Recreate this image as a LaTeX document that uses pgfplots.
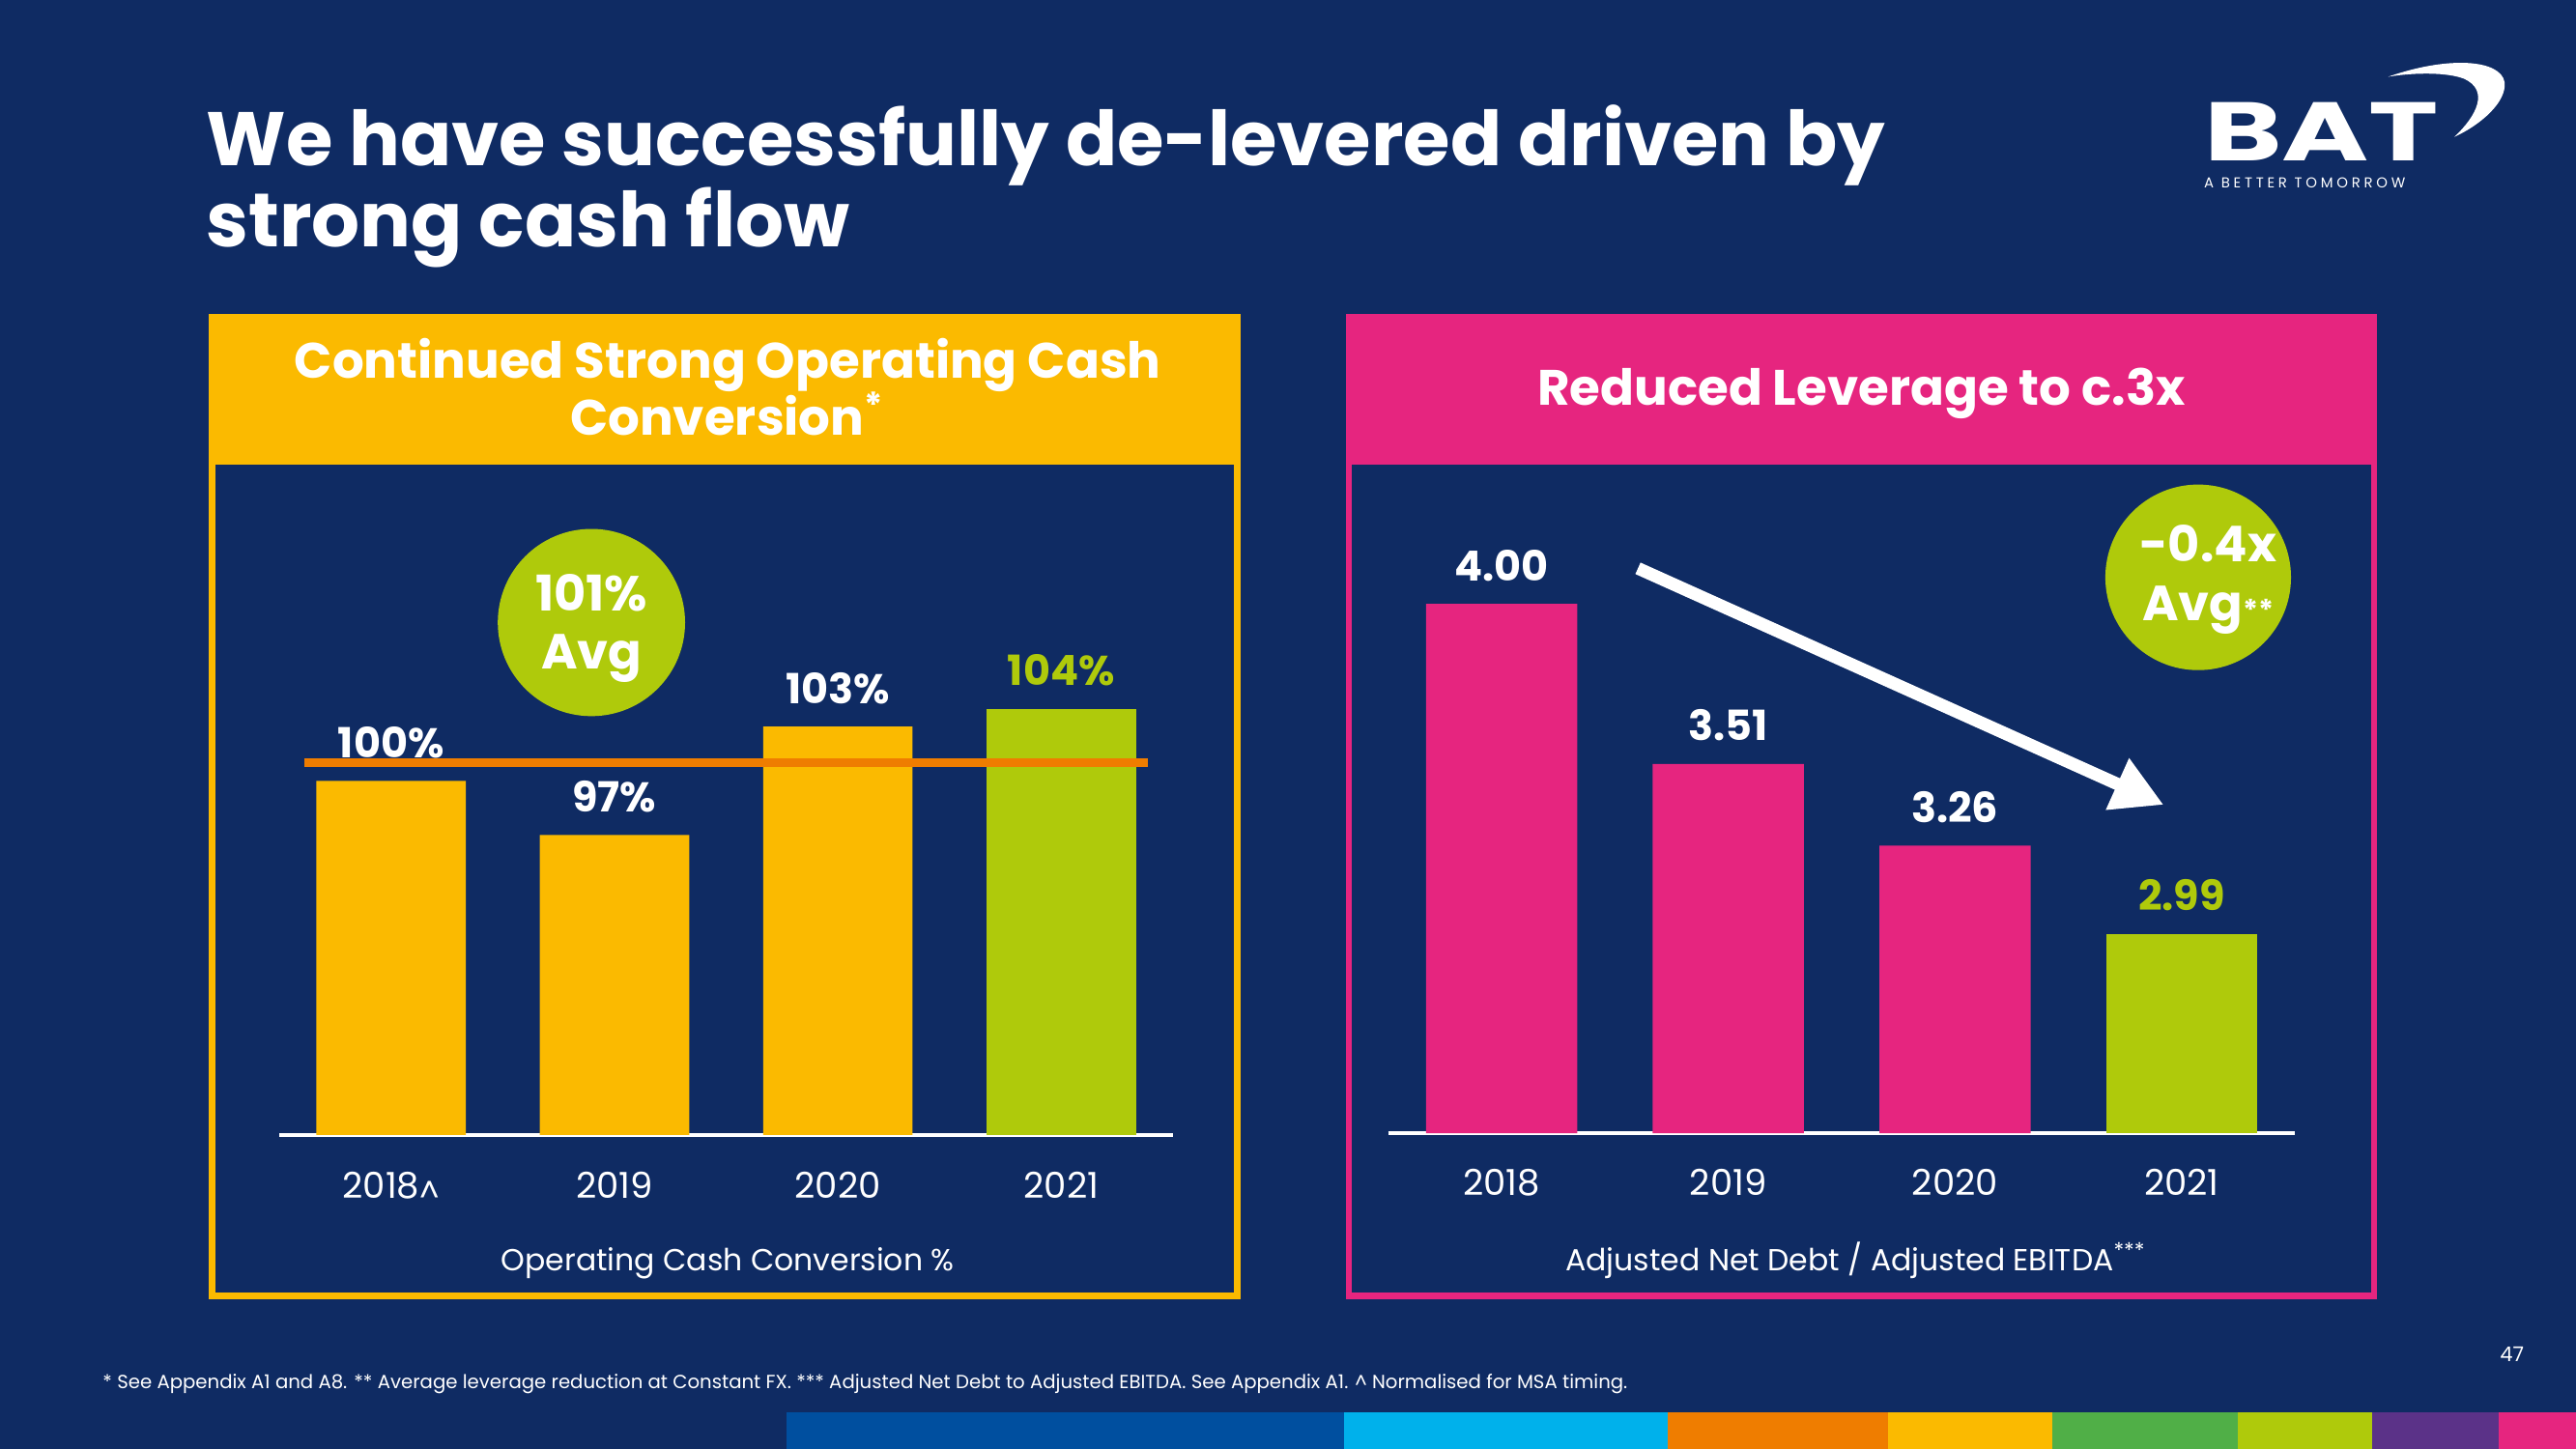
\documentclass[border=0pt]{standalone}
\usepackage{fontspec}
\setmainfont{Poppins}
\usepackage{graphicx}
\usepackage{pgfplots}
\pgfplotsset{compat=1.18}
\usetikzlibrary{arrows.meta}
\definecolor{navy}{HTML}{0F2B63}
\definecolor{byellow}{HTML}{FBBA00}
\definecolor{blime}{HTML}{AFCA0B}
\definecolor{bpink}{HTML}{E6257F}
\definecolor{borange}{HTML}{EF7D00}
\definecolor{bblue}{HTML}{004F9F}
\definecolor{bcyan}{HTML}{00B1EB}
\definecolor{bgreen}{HTML}{50AF47}
\definecolor{bpurple}{HTML}{5B3288}
\newcommand{\fs}[1]{\fontsize{#1}{#1}\selectfont}
\begin{document}
\begin{tikzpicture}
\begin{scope}[x=0.34pt,y=-0.34pt]
\fill[navy] (0,0) rectangle (1568,882);
% title
\node[anchor=base west, inner sep=0, white, font=\bfseries\fs{15.7}] at (125,101) {We have successfully de-levered driven by};
\node[anchor=base west, inner sep=0, white, font=\bfseries\fs{15.7}] at (125,150) {strong cash flow};
% logo
\node[anchor=south west, inner sep=0, white] at (1341,98.5) {\resizebox{143\dimexpr0.34pt}{35.5\dimexpr0.34pt}{\bfseries BAT}};
\node[anchor=base west, inner sep=0, white] at (1341,114.5) {\resizebox{122.5\dimexpr0.34pt}{!}{\addfontfeatures{LetterSpace=25}A BETTER TOMORROW}};
\fill[white] (1453.7,46.7) .. controls (1490,34) and (1522,36) .. (1524.5,50) .. controls (1526,62) and (1510,76) .. (1494,83.3) .. controls (1508,70) and (1515,55) .. (1500,48) .. controls (1490,44) and (1470,44) .. (1453.7,46.7) -- cycle;
% left panel
\fill[byellow] (127,191) rectangle (755,791);
\fill[navy] (131,283) rectangle (751,787);
\node[anchor=base, inner sep=0, white, font=\bfseries\fs{10.3}] at (443,230) {Continued Strong Operating Cash};
\node[anchor=base, inner sep=0, white, font=\bfseries\fs{10.3}] at (443,265) {Conversion\textsuperscript{*}};
% right panel
\fill[bpink] (819,191) rectangle (1447,791);
\fill[navy] (823,283) rectangle (1443,787);
\node[anchor=base, inner sep=0, white, font=\bfseries\fs{10.3}] at (1133,247) {Reduced Leverage to c.3x};
% x labels
\node[anchor=base, inner sep=0, white, font=\fs{6.3}] at (443,773.5) {Operating Cash Conversion \%};
\node[anchor=base, inner sep=0, white, font=\fs{6.3}] at (1130,773.5) {Adjusted Net Debt / Adjusted EBITDA\textsuperscript{***}};
% footnote
\node[anchor=base west, inner sep=0, white] at (62,845.5) {\resizebox{928\dimexpr0.34pt}{!}{\fs{4}* See Appendix A1 and A8. ** Average leverage reduction at Constant FX. *** Adjusted Net Debt to Adjusted EBITDA. See Appendix A1. \textasciicircum\ Normalised for MSA timing.}};
\node[anchor=base, inner sep=0, white, font=\fs{4.2}] at (1529,829) {47};
% bottom colour bar
\fill[bblue] (479,860) rectangle (818,882);
\fill[bcyan] (818,860) rectangle (1015,882);
\fill[borange] (1015,860) rectangle (1149,882);
\fill[byellow] (1149,860) rectangle (1249,882);
\fill[bgreen] (1249,860) rectangle (1362,882);
\fill[blime] (1362,860) rectangle (1444,882);
\fill[bpurple] (1444,860) rectangle (1521,882);
\fill[bpink] (1521,860) rectangle (1568,882);
\end{scope}

% left chart
\begin{axis}[
  at={({170*0.34pt},{-691*0.34pt})}, anchor=south west,
  scale only axis, width={544*0.34pt}, height={29.6*11*0.34pt},
  xmin=-0.5, xmax=3.5, ymin=80.4, ymax=110,
  /pgf/number format/assume math mode=true,
  axis y line=none, axis x line=bottom,
  x axis line style={-, white, line width=0.8pt},
  xtick={0,1,2,3},
  xticklabels={{2018\raisebox{-1.1pt}{\fs{6.5}\textasciicircum}},2019,2020,2021},
  major tick length=0pt,
  xticklabel style={white, font=\fs{7.4}, anchor=base, yshift={-38.4*0.34pt}},
  nodes near coords style={font=\bfseries\fs{8.6}, anchor=base, inner sep=0pt, yshift=4.8pt},
]
\addplot[ybar, bar width={91*0.34pt}, bar shift=0pt, fill=byellow, draw=none,
  nodes near coords={\pgfmathprintnumber{\pgfplotspointmeta}\%},
  every node near coord/.append style={white}]
  coordinates {(0,100) (1,97) (2,103)};
\addplot[ybar, bar width={91*0.34pt}, bar shift=0pt, fill=blime, draw=none,
  nodes near coords={\pgfmathprintnumber{\pgfplotspointmeta}\%},
  every node near coord/.append style={blime}]
  coordinates {(3,104)};
\addplot[borange, line width=1.7pt] coordinates {(-0.386,101) (3.386,101)};
\end{axis}

% right chart
\begin{axis}[
  at={({845*0.34pt},{-690*0.34pt})}, anchor=south west,
  scale only axis, width={552*0.34pt}, height={2.12*199*0.34pt},
  xmin=-0.5, xmax=3.5, ymin=2.38, ymax=4.5,
  /pgf/number format/assume math mode=true,
  axis y line=none, axis x line=bottom,
  x axis line style={-, white, line width=0.8pt},
  xtick={0,1,2,3},
  xticklabels={2018,2019,2020,2021},
  major tick length=0pt,
  xticklabel style={white, font=\fs{7.4}, anchor=base, yshift={-37.6*0.34pt}},
  nodes near coords style={font=\bfseries\fs{8.6}, anchor=base, inner sep=0pt, yshift=4.8pt},
]
\addplot[ybar, bar width={92*0.34pt}, bar shift=0pt, fill=bpink, draw=none,
  nodes near coords={\pgfmathprintnumber[fixed,fixed zerofill,precision=2]{\pgfplotspointmeta}},
  every node near coord/.append style={white}]
  coordinates {(0,4.00) (1,3.51) (2,3.26)};
\addplot[ybar, bar width={92*0.34pt}, bar shift=0pt, fill=blime, draw=none,
  nodes near coords={\pgfmathprintnumber[fixed,fixed zerofill,precision=2]{\pgfplotspointmeta}},
  every node near coord/.append style={blime}]
  coordinates {(3,2.99)};
\end{axis}

\begin{scope}[x=0.34pt,y=-0.34pt]
% circles
\fill[blime] (360,379) circle (57);
\node[anchor=base, inner sep=0, white, font=\bfseries\fs{10.2}] at (360,372) {101\%};
\node[anchor=base, inner sep=0, white, font=\bfseries\fs{10.2}] at (360,407) {Avg};
\fill[blime] (1338,351.5) circle (56.5);
\node[anchor=base, inner sep=0, white, font=\bfseries\fs{10.2}] at (1344,342) {-0.4x};
\node[anchor=base, inner sep=0, white, font=\bfseries\fs{10.2}] at (1344,378) {Avg{\fs{6}**}};
% arrow
\draw[white, line width=2.6pt, -{Triangle[length=10.5pt,width=11pt]}] (997,346) -- (1317,490);
\end{scope}
\end{tikzpicture}
\end{document}
